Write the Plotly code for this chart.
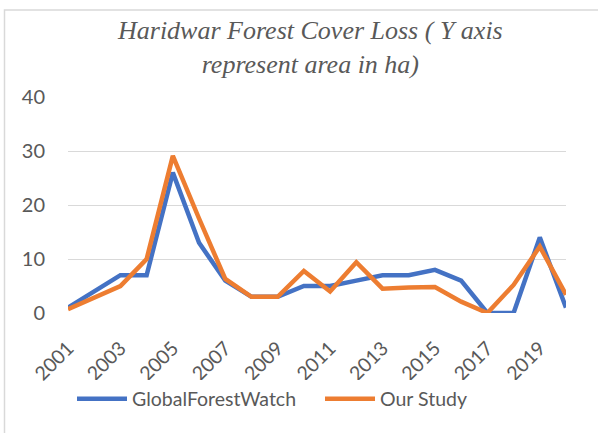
import plotly.graph_objects as go

years = [str(y) for y in range(2001, 2021)]
gfw = [1, 4, 7, 7, 26, 13, 6, 3, 3, 5, 5, 6, 7, 7, 8, 6, 0, 0, 14, 1]
our_study = [0.7, 2.9, 5, 10, 29.1, 17.5, 6.3, 3, 3, 7.8, 4, 9.4, 4.5, 4.7, 4.8, 2.1, 0, 5.2, 12.3, 3.4]
tick_years = [str(y) for y in range(2001, 2021, 2)]

# plot area in px, used to place frame, title and legend
L, R, T, B = 68, 32, 97, 120
W, H = 598, 433
pw = W - L - R
ph = H - T - B

fig = go.Figure()
fig.add_scatter(x=years, y=gfw, mode='lines', name='GlobalForestWatch',
                line=dict(color='#4472C4', width=4.5))
fig.add_scatter(x=years, y=our_study, mode='lines', name='Our Study',
                line=dict(color='#ED7D31', width=4.5))

fig.update_layout(
    width=W, height=H,
    margin=dict(l=L, r=R, t=T, b=B, autoexpand=False),
    paper_bgcolor='white', plot_bgcolor='white',
    legend=dict(orientation='h', xref='container', x=72 / W, xanchor='left',
                y=-(399 - (H - B)) / ph, yanchor='middle',
                font=dict(family='Lato', size=19.5, color='#595959'),
                itemwidth=50, entrywidth=183, entrywidthmode='pixels'),
    showlegend=True,
)
fig.add_annotation(text='Haridwar Forest Cover Loss ( Y axis<br>represent area in ha)',
                   xref='paper', yref='paper', x=(310 - L) / pw, xanchor='center',
                   y=1 + (T - 14) / ph, yanchor='top', showarrow=False,
                   font=dict(family='Liberation Serif', size=26, color='#595959', style='italic'))
fig.update_xaxes(type='category', tickvals=tick_years, tickangle=-45,
                 showgrid=False, showline=False, zeroline=False, ticks='',
                 ticklabelstandoff=19, automargin=False,
                 tickfont=dict(family='Lato', size=19.5, color='#595959'))
fig.update_yaxes(range=[0, 40], dtick=10, showgrid=True, gridcolor='#d9d9d9', gridwidth=1.3,
                 zeroline=False, showline=False, ticks='', ticklabelstandoff=22, automargin=False,
                 tickfont=dict(family='Lato', size=20, color='#595959'))

# light frame round the chart, running off the right and bottom
fig.add_shape(type='rect', xref='paper', yref='paper',
              x0=(4.5 - L) / pw, x1=(W + 10 - L) / pw,
              y0=-(B + 10) / ph, y1=1 + (T - 10) / ph,
              line=dict(color='#d9d9d9', width=1.5))

# page body has a default 8px margin, drop it so the figure sits at 0,0
fig.write_html("out.html", config={'displayModeBar': False},
               post_script="document.body.style.margin='0';")
